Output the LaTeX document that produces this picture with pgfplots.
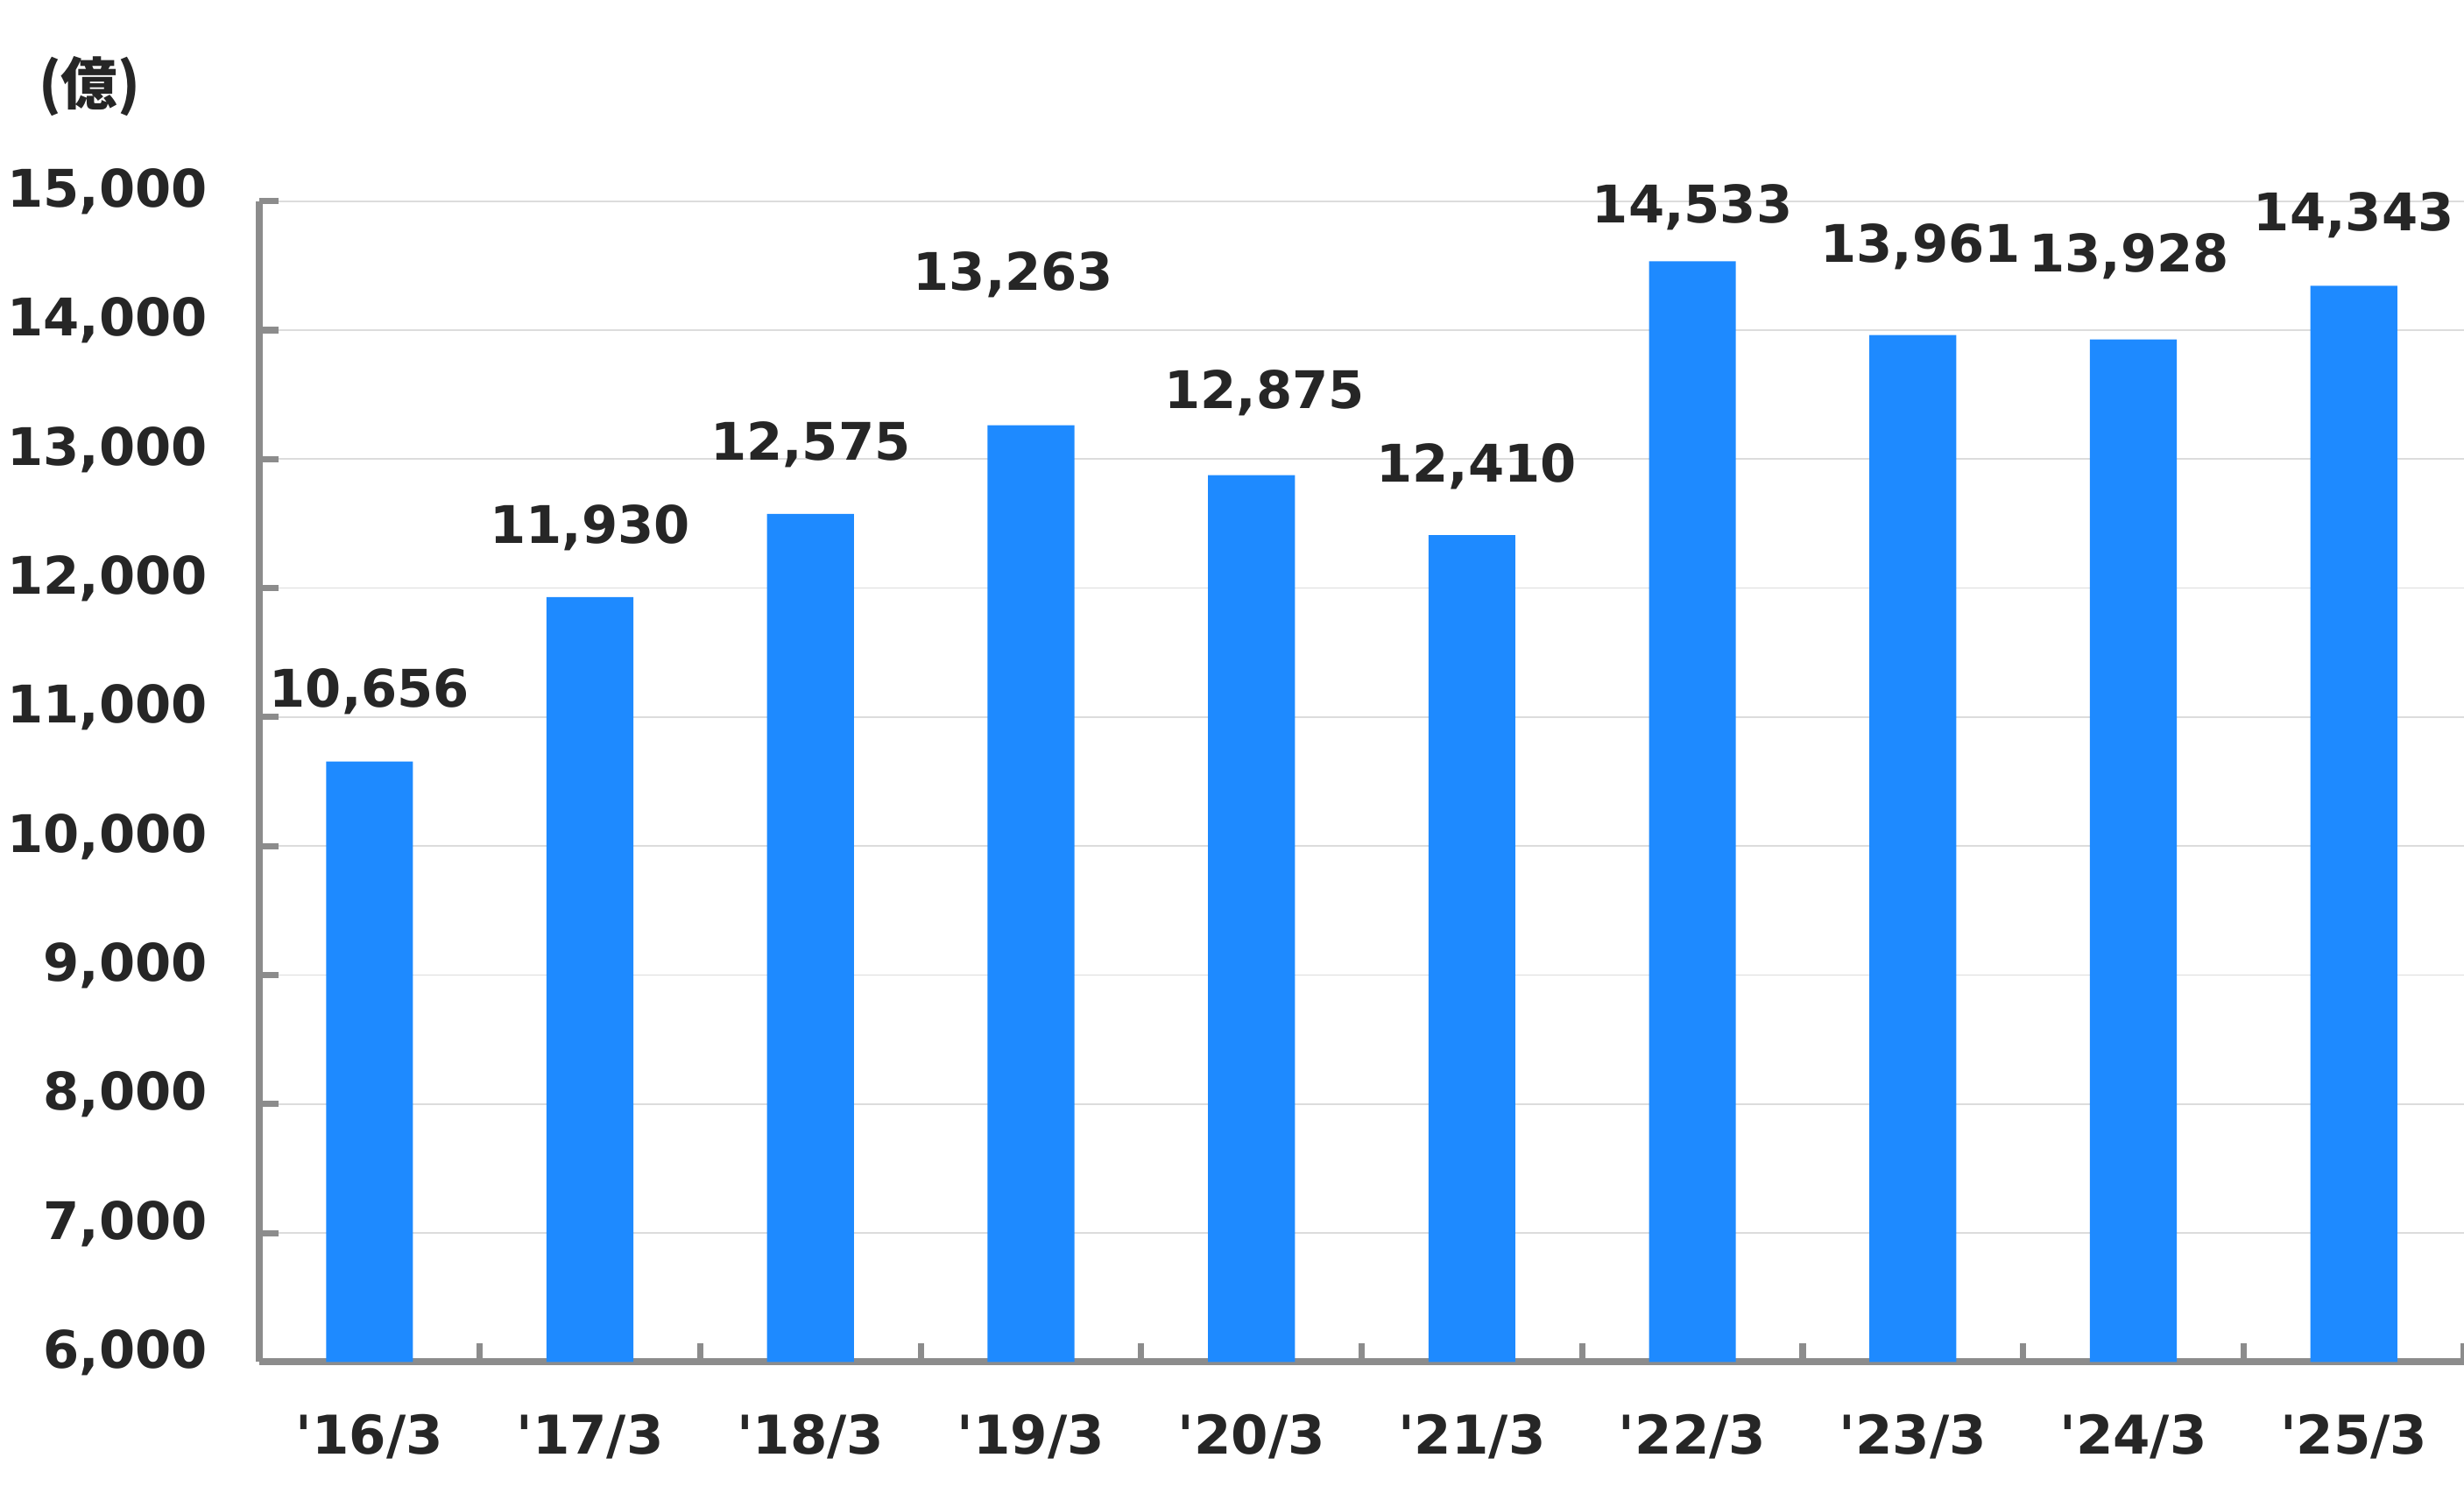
\documentclass[border=0pt]{standalone}
\usepackage{fontspec}
\setmainfont{DejaVu Sans}
\newfontfamily\cjk{Noto Sans CJK JP}
\usepackage{pgfplots}
\pgfplotsset{compat=1.18}
\usepackage{pgfplotstable}
\definecolor{barblue}{RGB}{30,138,255}
\definecolor{txt}{RGB}{38,38,38}
\definecolor{axgray}{RGB}{140,140,140}
\definecolor{gridgray}{RGB}{220,220,220}
\pgfplotstableread{
x val
0 10656
1 11930
2 12575
3 13263
4 12875
5 12410
6 14533
7 13961
8 13928
9 14343
}\bars
\pgfplotstableread{
lx ly lab
0.00 11201 10,656
1.00 12468 11,930
2.00 13113 12,575
2.92 14429 13,263
4.06 13515 12,875
5.02 12943 12,410
6.00 14953 14,533
7.035 14648 13,961
7.98 14575 13,928
9.00 14892 14,343
}\labs
\begin{document}
\begin{tikzpicture}
\useasboundingbox (-82.5pt,-41.5pt) rectangle (701.5pt,433.5pt);
\begin{axis}[
  at={(0,0)}, anchor=south west,
  scale only axis, width=701.5pt, height=369.5pt,
  xmin=-0.5, xmax=9.5, ymin=6000, ymax=15000,
  ytick={6000,7000,...,15000},
  scaled y ticks=false,
  xtick={0,...,9},
  xticklabels={{\textquotesingle16/3},{\textquotesingle17/3},{\textquotesingle18/3},{\textquotesingle19/3},{\textquotesingle20/3},{\textquotesingle21/3},{\textquotesingle22/3},{\textquotesingle23/3},{\textquotesingle24/3},{\textquotesingle25/3}},
  minor xtick={0.5,1.5,...,9.5},
  major x tick style={draw=none},
  tick align=inside,
  major tick length=6pt, minor tick length=6pt,
  tick style={axgray, line width=2pt},
  axis x line*=bottom, axis y line*=left,
  axis line style={axgray, line width=2.2pt},
  ymajorgrids, grid style={gridgray, line width=0.5pt},
  clip=false,
  ticklabel style={font=\fontsize{16.5}{19}\selectfont\bfseries, text=txt},
  yticklabel style={xshift=-13pt, yshift=3pt},
  xticklabel style={yshift=-13pt, font=\fontsize{17}{20}\selectfont\bfseries},
  /pgf/number format/.cd, 1000 sep={,}, assume math mode=true,
]
\addplot[ybar, bar width=0.394, fill=barblue, draw=none] table[x=x, y=val] {\bars};
\addplot[draw=none, mark=none, nodes near coords, point meta=explicit symbolic,
  every node near coord/.style={anchor=center, font=\fontsize{16.5}{19}\selectfont\bfseries, text=txt}]
  table[x=lx, y=ly, meta=lab] {\labs};
\end{axis}
\node[anchor=center, text=txt, font=\fontsize{18}{21}\selectfont\bfseries\cjk] at (-54pt,406pt) {(億)};
\end{tikzpicture}
\end{document}
